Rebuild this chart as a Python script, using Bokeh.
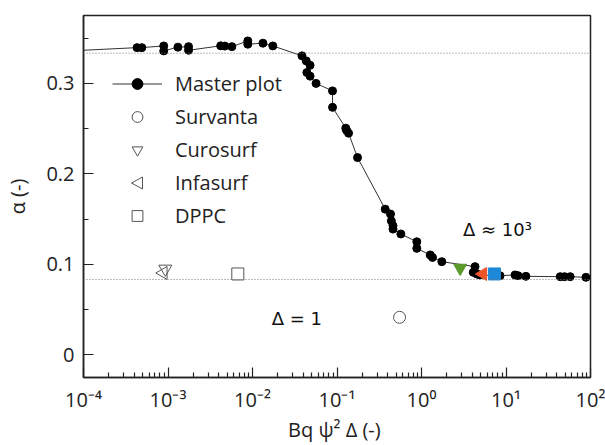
from bokeh.plotting import figure
from bokeh.models import (Range1d, FixedTicker, CustomJSTickFormatter, Span, Label,
                          Legend, LegendItem, PolyAnnotation)
from bokeh.embed import file_html
from bokeh.resources import INLINE

# ---------------- data ----------------
master_x = [4.3e-4, 4.9e-4, 8.9e-4, 8.9e-4, 1.31e-3, 1.75e-3, 1.75e-3, 4.2e-3, 4.7e-3, 5.7e-3,
            8.8e-3, 8.8e-3, 1.33e-2, 1.74e-2, 3.85e-2, 4.33e-2, 4.8e-2, 4.4e-2, 4.8e-2, 5.65e-2,
            8.85e-2, 8.85e-2, 0.127, 0.13, 0.137, 0.175, 0.372, 0.43, 0.44, 0.46,
            0.46, 0.57, 0.88, 0.88, 1.27, 1.35, 1.74, 4.3, 4.1, 4.5,
            4.9, 8.5, 12.8, 13.9, 17.2, 43.8, 49.2, 57.5, 88.3]
master_y = [0.3395, 0.3395, 0.3414, 0.3359, 0.3400, 0.3406, 0.3366, 0.3415, 0.3412, 0.3406,
            0.3469, 0.3433, 0.3444, 0.3414, 0.3304, 0.3248, 0.3200, 0.3120, 0.3080, 0.3000,
            0.2917, 0.2735, 0.2505, 0.2480, 0.2450, 0.2180, 0.1610, 0.1556, 0.1480, 0.1427,
            0.1390, 0.1336, 0.1250, 0.1177, 0.1104, 0.1077, 0.1030, 0.0975, 0.0912, 0.0894,
            0.0883, 0.0875, 0.0883, 0.0875, 0.0868, 0.0864, 0.0864, 0.0864, 0.0857]
line_start_x = 1e-4
line_start_y = 0.3366

survanta_x, survanta_y = [0.55], [0.0415]
curosurf_x, curosurf_y = [9.3e-4], [0.0950]
infasurf_x, infasurf_y = [8.8e-4], [0.0905]
dppc_x, dppc_y = [6.7e-3], [0.0894]

curosurf_hi_x, curosurf_hi_y = [2.87], [0.0960]
infasurf_hi_x, infasurf_hi_y = [5.33], [0.0894]
dppc_hi_x, dppc_hi_y = [7.3], [0.0894]

alpha_upper = 1 / 3
alpha_lower = 1 / 12

annot_text = ["\u0394 \u2248 10\u00b3", "\u0394 = 1"]
annot_x = [3.1, 0.0169]
annot_y = [0.139, 0.040]

legend_labels = ["Master plot", "Survanta", "Curosurf", "Infasurf", "DPPC"]

x_label = "Bq \u03c8\u00b2 \u0394  (-)"
y_label = "\u03b1 (-)"
x_ticks = [1e-4, 1e-3, 1e-2, 1e-1, 1e0, 1e1, 1e2]
y_ticks = [0, 0.1, 0.2, 0.3]
y_minor = [0.05, 0.15, 0.25, 0.35]

# ---------------- figure ----------------
FONT = "Open Sans"
FS = "20px"
p = figure(width=605, height=445, x_axis_type="log", output_backend="svg",
           toolbar_location=None, x_range=Range1d(1e-4, 1e2), y_range=Range1d(-0.025, 0.375),
           min_border_left=83, min_border_right=15, min_border_top=15, min_border_bottom=68)
p.grid.visible = False
p.background_fill_color = "white"
p.outline_line_color = "#222222"
p.outline_line_width = 1.5

x_minor = [k * t for t in x_ticks[:-1] for k in range(2, 10)]
p.xaxis.ticker = FixedTicker(ticks=x_ticks, minor_ticks=x_minor)
p.xaxis.formatter = CustomJSTickFormatter(code="""
const sup = {"-":"\u207b","0":"\u2070","1":"\u00b9","2":"\u00b2","3":"\u00b3","4":"\u2074",
             "5":"\u2075","6":"\u2076","7":"\u2077","8":"\u2078","9":"\u2079"};
const e = Math.round(Math.log10(tick));
return "10" + String(e).split("").map(c => sup[c]).join("");
""")
p.yaxis.ticker = FixedTicker(ticks=y_ticks, minor_ticks=y_minor)
p.yaxis.formatter = CustomJSTickFormatter(code="return tick === 0 ? '0' : tick.toFixed(1);")

for ax in (p.xaxis[0], p.yaxis[0]):
    ax.axis_line_width = 1.5
    ax.axis_line_color = "#222222"
    ax.major_tick_in = 10
    ax.major_tick_out = 0
    ax.minor_tick_in = 5
    ax.minor_tick_out = 0
    ax.major_tick_line_color = "#222222"
    ax.minor_tick_line_color = "#222222"
    ax.major_tick_line_width = 1.2
    ax.minor_tick_line_width = 1.2
    ax.major_label_text_font = FONT
    ax.major_label_text_font_size = FS
    ax.major_label_text_color = "#222222"
    ax.axis_label_text_font = FONT
    ax.axis_label_text_font_size = FS
    ax.axis_label_text_font_style = "normal"
    ax.axis_label_text_color = "#222222"

p.xaxis.major_label_standoff = 8
p.xaxis.axis_label_standoff = 0
p.yaxis.major_label_standoff = 9
p.yaxis.axis_label_standoff = 12
p.xaxis.axis_label = x_label
p.yaxis.axis_label = y_label

# reference lines
for yv in (alpha_upper, alpha_lower):
    p.add_layout(Span(location=yv, dimension="width", line_color="#777777",
                      line_dash="1 2", line_width=1))

# master plot
line_r = p.line([line_start_x] + master_x, [line_start_y] + master_y,
                line_color="#333333", line_width=1)
dots_r = p.scatter(master_x, master_y, marker="circle", size=8,
                   fill_color="black", line_color="black")

# open markers
open_kw = dict(fill_alpha=0, line_color="#555555", line_width=1)
sv_r = p.scatter(survanta_x, survanta_y, marker="circle", size=12, **open_kw)
cu_r = p.scatter(curosurf_x, curosurf_y, marker="inverted_triangle", size=13, **open_kw)
inf_r = p.scatter(infasurf_x, infasurf_y, marker="triangle", angle=1.5708, size=13, **open_kw)
dp_r = p.scatter(dppc_x, dppc_y, marker="square", size=12, **open_kw)
# legend stand-in for the left-pointing triangle (legend glyphs ignore angle)
inf_legend_r = p.scatter([], [], marker="circle", size=1, fill_alpha=0, line_alpha=0)

# coloured markers (Δ ≈ 10^3)
p.scatter(curosurf_hi_x, curosurf_hi_y, marker="inverted_triangle", size=13,
          fill_color="#5c9a2c", line_color="#5c9a2c")
p.scatter(infasurf_hi_x, infasurf_hi_y, marker="triangle", angle=1.5708, size=13,
          fill_color="#f2542a", line_color="#f2542a")
p.scatter(dppc_hi_x, dppc_hi_y, marker="square", size=12,
          fill_color="#1e88d8", line_color="#1e88d8")

# annotations
for t, xv, yv in zip(annot_text, annot_x, annot_y):
    p.add_layout(Label(x=xv, y=yv, text=t, text_font="DejaVu Sans",
                       text_font_size="18px", text_color="#111111",
                       text_baseline="middle", text_align="left"))

LEG_X, LEG_Y = 29, 148
legend = Legend(items=[
    LegendItem(label=legend_labels[0], renderers=[line_r, dots_r]),
    LegendItem(label=legend_labels[1], renderers=[sv_r]),
    LegendItem(label=legend_labels[2], renderers=[cu_r]),
    LegendItem(label=legend_labels[3], renderers=[inf_legend_r]),
    LegendItem(label=legend_labels[4], renderers=[dp_r]),
], location=(LEG_X, LEG_Y), padding=0, margin=0, spacing=6,
    glyph_width=50, glyph_height=27, label_height=27, label_standoff=13,
    border_line_alpha=0, background_fill_alpha=0,
    label_text_font=FONT, label_text_font_size=FS, label_text_color="#222222")
p.add_layout(legend)

# left-pointing triangle outline for the Infasurf legend entry (screen units)
cx, cy = LEG_X + 25, LEG_Y + 27 + 6 + 13.5
p.add_layout(PolyAnnotation(xs=[cx - 6, cx + 5, cx + 5], ys=[cy, cy + 6, cy - 6],
                            xs_units="screen", ys_units="screen",
                            fill_alpha=0, line_color="#555555", line_alpha=1.0,
                            line_width=1))

open("out.html", "w").write(file_html(p, INLINE))
